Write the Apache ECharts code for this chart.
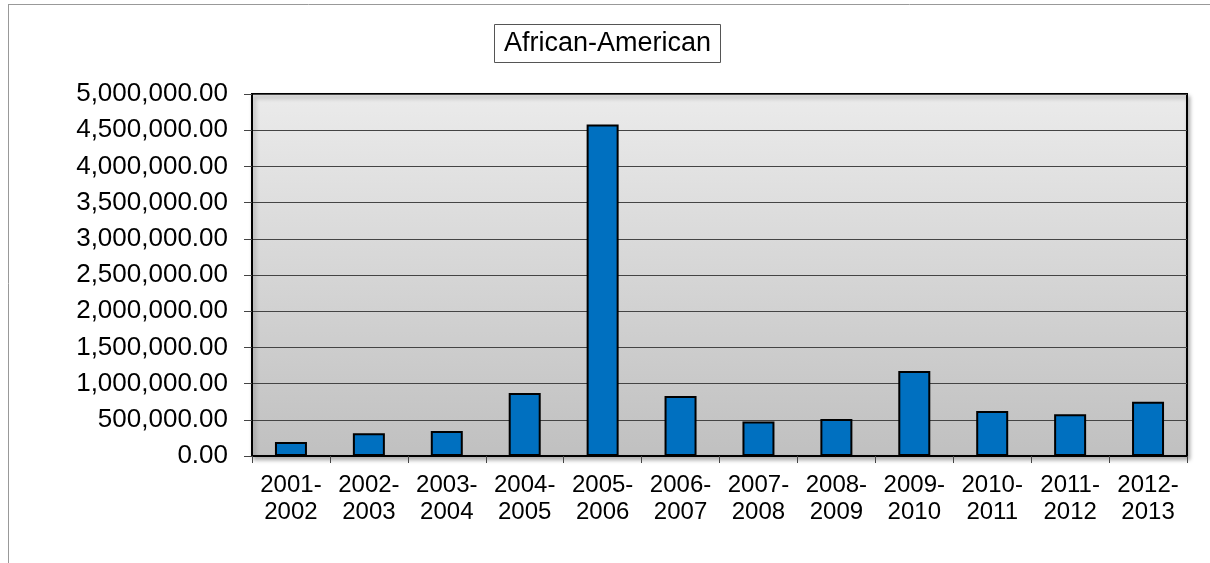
<!DOCTYPE html>
<html>
<head>
<meta charset="utf-8">
<script src="https://cdn.jsdelivr.net/npm/echarts@6/dist/echarts.min.js"></script>
<style>
  html, body { margin: 0; padding: 0; background: #fff; }
  #chart { width: 1210px; height: 563px; }
</style>
</head>
<body>
<div id="chart"></div>
<script>
// School years and the African-American totals for each
const categories = [
  '2001-\n2002', '2002-\n2003', '2003-\n2004', '2004-\n2005', '2005-\n2006', '2006-\n2007',
  '2007-\n2008', '2008-\n2009', '2009-\n2010', '2010-\n2011', '2011-\n2012', '2012-\n2013'
];
const values = [
  195000, 315000, 345000, 870000, 4580000, 830000,
  475000, 510000, 1175000, 620000, 575000, 750000
];
const seriesName = 'African-American';
const yMin = 0;
const yMax = 5000000;
const yStep = 500000;

const fmt = v => v.toLocaleString('en-US', { minimumFractionDigits: 2, maximumFractionDigits: 2 });
const FONT = '"Liberation Sans", Arial, sans-serif';

const chart = echarts.init(document.getElementById('chart'), null, { renderer: 'canvas' });
chart.setOption({
  animation: false,
  textStyle: { fontFamily: FONT },
  title: {
    text: seriesName,
    left: 494,
    top: 24,
    padding: [5, 10, 5, 10],
    borderColor: '#555',
    borderWidth: 1,
    textStyle: { fontSize: 27, lineHeight: 29, fontWeight: 'normal', color: '#000', fontFamily: FONT }
  },
  graphic: [
    { type: 'line', shape: { x1: 8, y1: 4.5, x2: 1210, y2: 4.5 }, style: { stroke: '#999', lineWidth: 1 } },
    { type: 'line', shape: { x1: 8.5, y1: 4, x2: 8.5, y2: 563 }, style: { stroke: '#999', lineWidth: 1 } }
  ],
  grid: {
    left: 252, right: 23, top: 94, bottom: 107,
    show: true,
    borderColor: '#000',
    borderWidth: 2,
    backgroundColor: {
      type: 'linear', x: 0, y: 0, x2: 0, y2: 1,
      colorStops: [{ offset: 0, color: '#ebebeb' }, { offset: 1, color: '#c0c0c0' }]
    },
    shadowColor: 'rgba(0,0,0,0.3)',
    shadowBlur: 4,
    shadowOffsetX: 2,
    shadowOffsetY: 3
  },
  xAxis: {
    type: 'category',
    data: categories,
    axisLine: { show: true, lineStyle: { color: '#000', width: 2 } },
    axisTick: { show: true, length: 7, lineStyle: { color: '#444', width: 1 } },
    axisLabel: { color: '#000', fontSize: 24, lineHeight: 27, margin: 16, interval: 0, fontFamily: FONT }
  },
  yAxis: {
    type: 'value',
    min: yMin,
    max: yMax,
    interval: yStep,
    axisLine: { show: true, lineStyle: { color: '#000', width: 2 } },
    axisTick: { show: true, length: 8, lineStyle: { color: '#444', width: 1 } },
    axisLabel: { color: '#000', fontSize: 26, margin: 24, formatter: fmt, fontFamily: FONT },
    splitLine: { show: true, lineStyle: { color: '#444', width: 1.2 } }
  },
  series: [{
    name: seriesName,
    type: 'bar',
    data: values,
    barWidth: 32,
    itemStyle: { color: '#0070c0', borderColor: '#000', borderWidth: 2 }
  }]
});
</script>
</body>
</html>
